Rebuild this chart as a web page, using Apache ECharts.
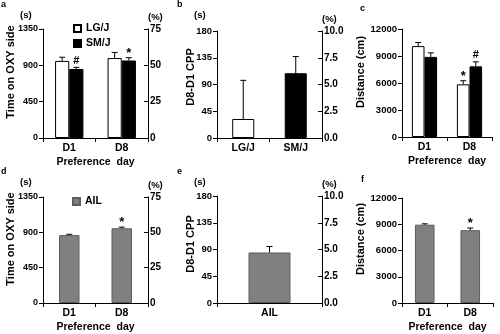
<!DOCTYPE html>
<html>
<head>
<meta charset="utf-8">
<script src="https://cdn.jsdelivr.net/npm/echarts@6/dist/echarts.min.js"></script>
<style>
  html, body { margin: 0; padding: 0; background: #fff; }
  #chart { width: 500px; height: 334px; }
</style>
</head>
<body>
<div id="chart"></div>
<script>
// ---- categories ----
const dayCats = ['D1', 'D8'];
const strainCats = ['LG/J', 'SM/J'];
const ailCats = ['AIL'];

// ---- a: time on OXY side, parental strains (s) ----
const oxyLG = [955, 990];
const oxyLGErr = [45, 70];
const oxyLGSig = ['', ''];
const oxySM = [855, 960];
const oxySMErr = [20, 35];
const oxySMSig = ['#', '*'];

// ---- b: D8-D1 CPP, parental strains (s) ----
const cppStrain = [32, 109];
const cppStrainErr = [65, 28];

// ---- c: distance travelled, parental strains (cm) ----
const distLG = [10100, 5850];
const distLGErr = [400, 400];
const distLGSig = ['', '*'];
const distSM = [8900, 7850];
const distSMErr = [450, 500];
const distSMSig = ['', '#'];

// ---- d: time on OXY side, AIL (s) ----
const oxyAIL = [865, 952];
const oxyAILErr = [10, 14];
const oxyAILSig = ['', '*'];

// ---- e: D8-D1 CPP, AIL (s) ----
const cppAIL = [85];
const cppAILErr = [10];

// ---- f: distance travelled, AIL (cm) ----
const distAIL = [8950, 8320];
const distAILErr = [100, 250];
const distAILSig = ['', '*'];

// ---- tick settings ----
const secTicks = { min: 0, max: 1350, interval: 450 };
const pctTicks = { min: 0, max: 75, interval: 25 };
const cppTicks = { min: 0, max: 180, interval: 45 };
const cppPctTicks = { min: 0, max: 10, interval: 2.5 };
const distTicks = { min: 0, max: 12000, interval: 3000 };

// ---- y-axis titles ----
const titleOxy = 'Time on OXY side';
const titleCpp = 'D8-D1 CPP';
const titleDist = 'Distance (cm)';

const FONT = "'Liberation Sans', Arial, sans-serif";
const WHITE = '#ffffff', BLACK = '#000000', GRAY = '#808080';

const chart = echarts.init(document.getElementById('chart'), null, { renderer: 'canvas' });

const grids = [
  { left: 43, top: 29, width: 105, height: 109 },   // a
  { left: 217, top: 31, width: 105, height: 107 },  // b
  { left: 402, top: 29, width: 90, height: 108 },   // c
  { left: 43, top: 197, width: 105, height: 107 },  // d
  { left: 217, top: 196, width: 105, height: 107 }, // e
  { left: 402, top: 198, width: 91, height: 106 }   // f
];

const labelStyle = { color: '#000', fontFamily: FONT, fontWeight: 'bold', fontSize: 10 };
const axisLine = { show: true, lineStyle: { color: '#000', width: 1 } };

function xAxis(gridIndex, cats, name) {
  return {
    type: 'category', gridIndex, data: cats,
    axisLine, axisTick: { show: true, length: 4, lineStyle: { color: '#000' } },
    axisLabel: Object.assign({ margin: 5 }, labelStyle, { fontSize: 10.5 }),
    name: name || '', nameLocation: 'middle', nameGap: 19,
    nameTextStyle: Object.assign({}, labelStyle, { fontSize: 10.5 })
  };
}

function leftAxis(gridIndex, ticks, size) {
  return Object.assign({
    type: 'value', gridIndex, position: 'left',
    axisLine, axisTick: { show: true, length: 4, lineStyle: { color: '#000' } },
    splitLine: { show: false },
    axisLabel: Object.assign({ margin: 5, formatter: v => String(v) }, labelStyle, { fontSize: size })
  }, ticks);
}

function rightAxis(gridIndex, ticks, digits) {
  return Object.assign({
    type: 'value', gridIndex, position: 'right',
    axisLine, axisTick: { show: true, inside: true, length: 4, lineStyle: { color: '#000' } },
    splitLine: { show: false },
    axisLabel: Object.assign({ margin: 2, formatter: v => v.toFixed(digits) }, labelStyle),
    name: '(%)', nameLocation: 'end', nameGap: 7,
    nameTextStyle: Object.assign({}, labelStyle, { align: 'left', fontSize: 9.5 })
  }, ticks);
}

const xAxes = [
  xAxis(0, dayCats, 'Preference  day'),
  xAxis(1, strainCats),
  xAxis(2, dayCats, 'Preference  day'),
  xAxis(3, dayCats, 'Preference  day'),
  xAxis(4, ailCats),
  xAxis(5, dayCats, 'Preference  day')
];

const yAxes = [
  leftAxis(0, secTicks, 9), leftAxis(1, cppTicks, 9.5), leftAxis(2, distTicks, 9.5),
  leftAxis(3, secTicks, 9), leftAxis(4, cppTicks, 9.5), leftAxis(5, distTicks, 9.5),
  rightAxis(0, pctTicks, 0),
  rightAxis(1, cppPctTicks, 1),
  rightAxis(3, pctTicks, 0),
  rightAxis(4, cppPctTicks, 1)
];

// error bar (upward whisker + cap) with optional significance mark above it
function errorSeries(axisIdx, values, errs, sigs, offsetFrac) {
  return {
    type: 'custom', xAxisIndex: axisIdx, yAxisIndex: axisIdx, z: 5, silent: true,
    clip: false,
    data: values.map((v, i) => [i, v, errs[i]]),
    renderItem(params, api) {
      const i = api.value(0), v = api.value(1), e = api.value(2);
      const band = api.size([1, 0])[0];
      const base = api.coord([i, v]);
      const top = api.coord([i, v + e]);
      const x = base[0] + offsetFrac * band;
      const cap = 3;
      const children = [
        { type: 'line', shape: { x1: x, y1: base[1], x2: x, y2: top[1] }, style: { stroke: '#000', lineWidth: 1 } },
        { type: 'line', shape: { x1: x - cap, y1: top[1], x2: x + cap, y2: top[1] }, style: { stroke: '#000', lineWidth: 1 } }
      ];
      const s = sigs ? sigs[params.dataIndex] : '';
      if (s) {
        children.push({
          type: 'text',
          style: { text: s, x: x, y: top[1] - (s === '*' ? -2 : 1), align: 'center', verticalAlign: 'bottom',
                   fill: '#000', font: "bold " + (s === '*' ? 13 : 11) + "px " + FONT }
        });
      }
      return { type: 'group', children };
    }
  };
}

function barSeries(axisIdx, name, values, color, gap, itemColors) {
  return {
    type: 'bar', name, xAxisIndex: axisIdx, yAxisIndex: axisIdx,
    barGap: '0%', barCategoryGap: gap,
    data: values.map((v, i) => itemColors
      ? { value: v, itemStyle: { color: itemColors[i] } } : v),
    itemStyle: { color, borderColor: color === GRAY ? '#5e5e5e' : '#000', borderWidth: 1 }
  };
}

const gapA = 0.46, gapC = 0.44;
const series = [
  // a
  barSeries(0, 'LG/J', oxyLG, WHITE, gapA * 100 + '%'),
  barSeries(0, 'SM/J', oxySM, BLACK, gapA * 100 + '%'),
  errorSeries(0, oxyLG, oxyLGErr, oxyLGSig, -(1 - gapA) / 4),
  errorSeries(0, oxySM, oxySMErr, oxySMSig, (1 - gapA) / 4),
  // b
  barSeries(1, 'CPP', cppStrain, WHITE, '58%', [WHITE, BLACK]),
  errorSeries(1, cppStrain, cppStrainErr, null, 0),
  // c
  barSeries(2, 'LG/J', distLG, WHITE, gapC * 100 + '%'),
  barSeries(2, 'SM/J', distSM, BLACK, gapC * 100 + '%'),
  errorSeries(2, distLG, distLGErr, distLGSig, -(1 - gapC) / 4),
  errorSeries(2, distSM, distSMErr, distSMSig, (1 - gapC) / 4),
  // d
  barSeries(3, 'AIL', oxyAIL, GRAY, '61%'),
  errorSeries(3, oxyAIL, oxyAILErr, oxyAILSig, 0),
  // e
  barSeries(4, 'AIL', cppAIL, GRAY, '60%'),
  errorSeries(4, cppAIL, cppAILErr, null, 0),
  // f
  barSeries(5, 'AIL', distAIL, GRAY, '57%'),
  errorSeries(5, distAIL, distAILErr, distAILSig, 0)
];

// panel letters and left-axis unit labels
const letterStyle = { color: '#000', fontFamily: FONT, fontWeight: 'bold', fontSize: 9 };
const unitStyle = { color: '#000', fontFamily: FONT, fontWeight: 'bold', fontSize: 9.5 };
const titles = [
  { text: 'a', left: 1, top: 0 }, { text: 'b', left: 177, top: 0 }, { text: 'c', left: 360, top: 4 },
  { text: 'd', left: 1, top: 167 }, { text: 'e', left: 177, top: 167 }, { text: 'f', left: 361, top: 175 }
].map(t => Object.assign({ padding: 0, textStyle: letterStyle }, t)).concat([
  { text: '(s)', left: 20, top: 10 }, { text: '(s)', left: 194, top: 10 },
  { text: '(s)', left: 20, top: 177 }, { text: '(s)', left: 194, top: 177 }
].map(t => Object.assign({ padding: 0, textStyle: unitStyle }, t)));

// rotated y-axis titles (read bottom to top)
function axisTitle(text, x, y) {
  return {
    type: 'text', x, y, rotation: Math.PI / 2, silent: true,
    style: { text, fill: '#000', font: 'bold 11px ' + FONT, align: 'center', verticalAlign: 'middle' }
  };
}
const axisTitles = [
  axisTitle(titleOxy, 11, 72), axisTitle(titleCpp, 191, 77), axisTitle(titleDist, 361, 72),
  axisTitle(titleOxy, 11, 239), axisTitle(titleCpp, 191, 244), axisTitle(titleDist, 361, 239)
];

const legendText = { color: '#000', fontFamily: FONT, fontWeight: 'bold', fontSize: 10.5 };
const option = {
  animation: false,
  backgroundColor: '#fff',
  title: titles,
  grid: grids,
  xAxis: xAxes,
  yAxis: yAxes,
  graphic: axisTitles,
  legend: [
    { data: ['LG/J', 'SM/J'], orient: 'vertical', left: 73, top: 23, itemWidth: 7, itemHeight: 7,
      itemGap: 4, textStyle: legendText, padding: 0, icon: 'rect' },
    { data: ['AIL'], orient: 'vertical', left: 72, top: 196, itemWidth: 7, itemHeight: 7,
      textStyle: legendText, padding: 0, icon: 'rect' }
  ],
  series
};
chart.setOption(option);
</script>
</body>
</html>
